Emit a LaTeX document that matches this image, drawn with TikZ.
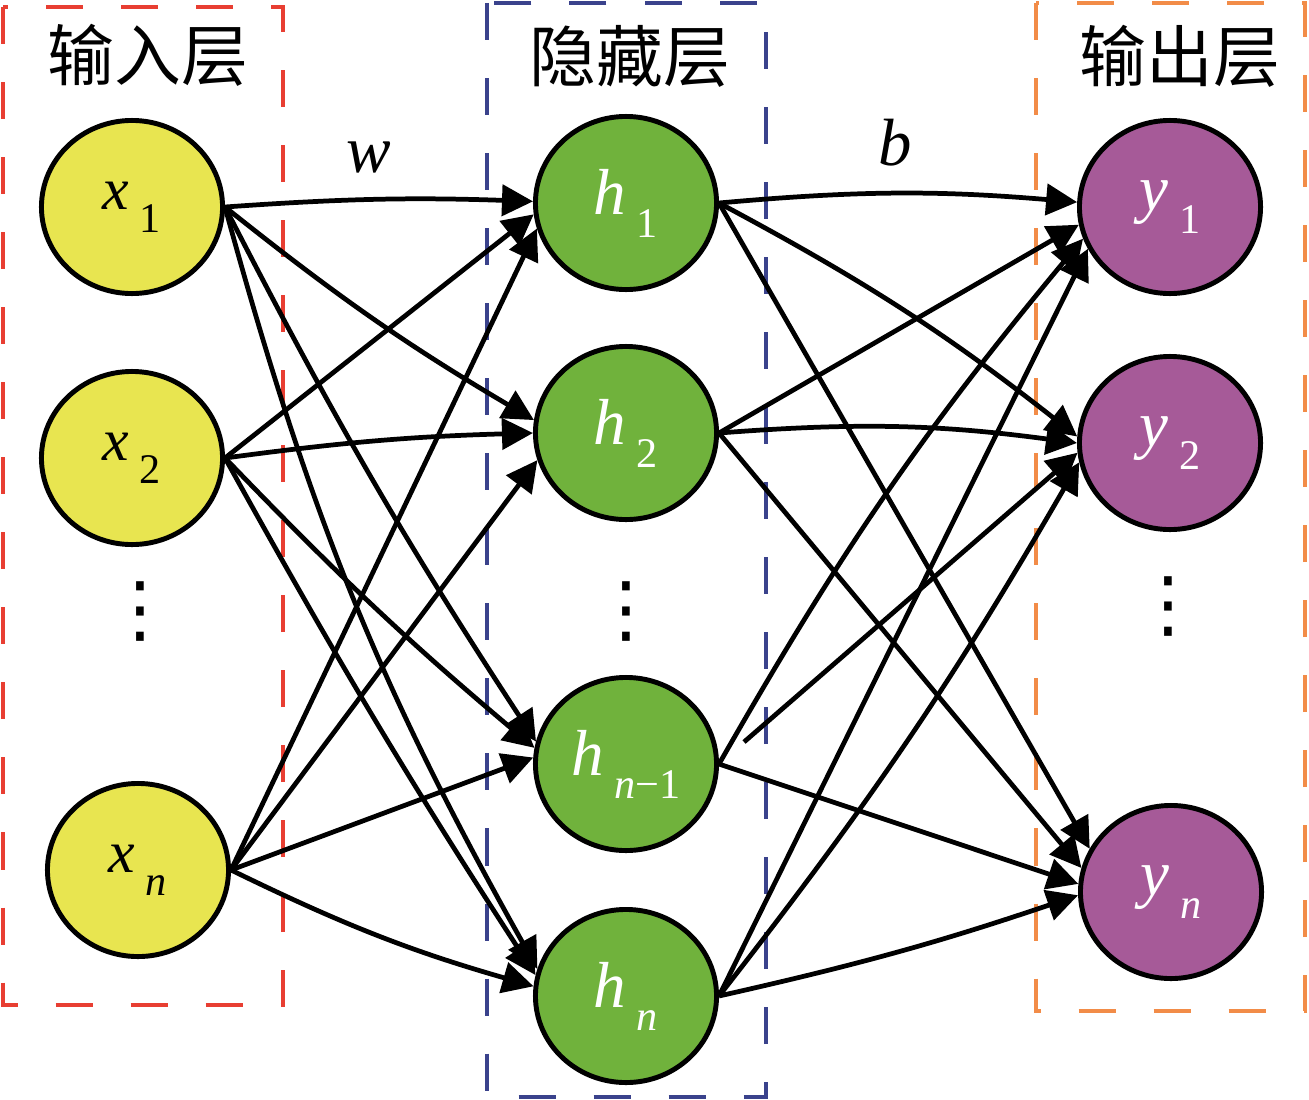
\documentclass[tikz,border=0pt]{standalone}
\usepackage{fontspec}
\setmainfont{Liberation Serif}
\newfontfamily\labfont{Liberation Serif}
\newfontfamily\cjk{Noto Sans CJK SC}
\newfontfamily\symfont{DejaVu Sans}
\usetikzlibrary{arrows.meta,shapes.geometric}

\definecolor{inyellow}{RGB}{232,229,80}
\definecolor{hidgreen}{RGB}{112,178,60}
\definecolor{outpurple}{RGB}{166,90,152}
\definecolor{boxred}{RGB}{232,62,50}
\definecolor{boxblue}{RGB}{58,66,140}
\definecolor{boxorange}{RGB}{242,140,72}

% neuron label: letter with a lowered index
\newcommand{\nlab}[2]{\textit{#1}\hspace{3pt}\raisebox{-6.5pt}{\fontsize{12}{12}\selectfont #2}}

\tikzset{
	neuron/.style={ellipse,draw=black,line width=1.4pt,minimum width=1.81cm,minimum height=1.73cm,inner sep=0pt,font=\labfont\fontsize{18.5}{18.5}\selectfont},
	innode/.style={neuron,fill=inyellow,font=\labfont\fontsize{17}{17}\selectfont},
	hidnode/.style={neuron,fill=hidgreen,text=white},
	outnode/.style={neuron,fill=outpurple,text=white},
	layerbox/.style={line width=1.25pt,dash pattern=on 0.37cm off 0.38cm},
	conn/.style={line width=1.35pt,-{Triangle[length=3.1mm,width=3.1mm]}},
	title/.style={inner sep=0pt,font=\cjk\fontsize{19}{19}\selectfont},
	weight/.style={inner sep=0pt,font=\labfont\fontsize{19}{19}\selectfont\itshape},
	skipdots/.style={inner sep=0pt,font=\symfont\fontsize{21}{21}\selectfont}
}

\begin{document}
\begin{tikzpicture}[x=0.01cm,y=-0.01cm]
	\useasboundingbox (0,0) rectangle (1309,1100);
	% layers
	\draw[layerbox,boxred] (3,7) rectangle (283,1005);
	\draw[layerbox,boxblue] (487,3) rectangle (766,1097);
	\draw[layerbox,boxorange] (1036,3) rectangle (1305,1011);
	\node[title] (tin) at (148,55) {输入层};
	\node[title] (thid) at (630,56) {隐藏层};
	\node[title] (tout) at (1180,56) {输出层};
	% neurons
	\node[innode] (x1) at (132,207) {\nlab{x}{1}};
	\node[innode] (x2) at (132,458) {\nlab{x}{2}};
	\node[skipdots] (xd) at (140,612) {⋮};
	\node[innode] (xn) at (138,870) {\nlab{x}{\textit{n}}};
	\node[hidnode] (h1) at (626,203) {\nlab{h}{1}};
	\node[hidnode] (h2) at (626,433) {\nlab{h}{2}};
	\node[skipdots] (hd) at (626,612) {⋮};
	\node[hidnode] (hn1) at (626,764) {\nlab{h}{\textit{n}−1}};
	\node[hidnode] (hn) at (626,996) {\nlab{h}{\textit{n}}};
	\node[outnode] (y1) at (1170,207) {\nlab{y}{1}};
	\node[outnode] (y2) at (1170,443) {\nlab{y}{2}};
	\node[skipdots] (yd) at (1168,607) {⋮};
	\node[outnode] (yn) at (1171,892) {\nlab{y}{\textit{n}}};
	\node[weight] (w) at (369,157) {w};
	\node[weight] (b) at (895,143) {b};
	% connections
	\foreach \src/\dst/\ang/\bnd in {x1/h1/179/3,x1/h2/172/-4,x1/hn1/166/-3,x1/hn/163/-7,
		x2/h1/187/0,x2/h2/180/3,x2/hn1/170/-3,x2/hn/167/-2,
		xn/h1/196/0,xn/h2/197/0,xn/hn1/176/0,xn/hn/174/-5,
		h1/y1/177/5,h1/y2/176/5,h1/yn/152/0,
		h2/y1/191/0,h2/y2/180/6,h2/yn/165/0,
		hn1/y1/200/5,hn1/yn/175/0,
		hn/y1/207/0,hn/y2/192/-4,hn/yn/182/-3}
		\draw[conn] (\src.east) to[bend left=\bnd] (\dst.\ang);
	\coordinate (hn1s) at ([xshift=0.25cm,yshift=0.22cm]hn1.east);
	\draw[conn] (hn1s) -- (y2.186);
\end{tikzpicture}
\end{document}
